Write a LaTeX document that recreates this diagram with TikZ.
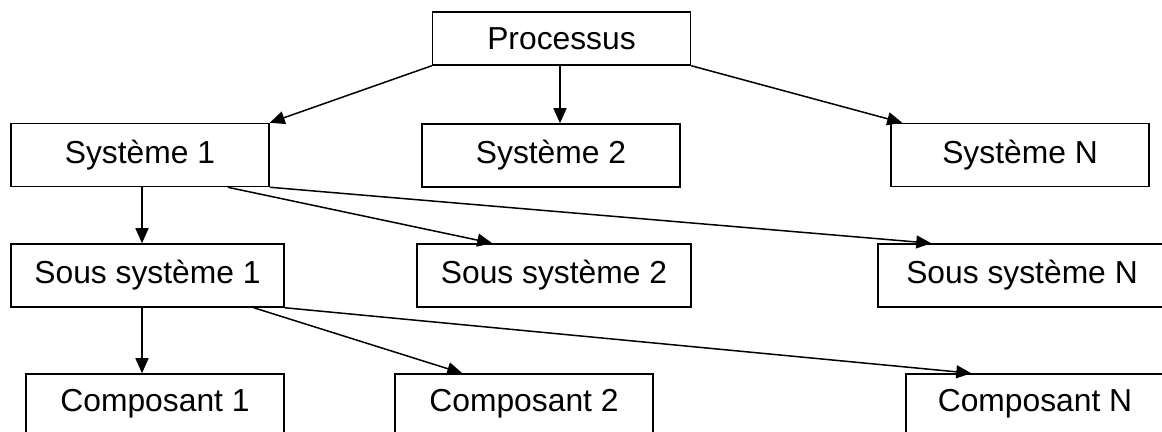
\documentclass[tikz,border=0pt]{standalone}
\usepackage{fontspec}
\setmainfont{Liberation Sans}
\usetikzlibrary{arrows.meta, positioning}

\begin{document}
\begin{tikzpicture}[x=0.5pt,y=-0.5pt,line width=0.75pt,
    >={Triangle[length=7.5pt,width=6.5pt]},
    box/.style={draw,rectangle,inner sep=0pt,minimum width=129pt,minimum height=31.5pt,
      font=\fontsize{15.9}{18}\selectfont}]
    \useasboundingbox (0,0) rectangle (1162,432);
    % niveau 0
    \node[box,minimum height=26.5pt] (P) at (561.5,38.5) {Processus};
    % systemes
    \node[box] (S1) at (140,155) {Système 1};
    \node[box] (S2) at (551,155.5) {Système 2};
    \node[box] (SN) at (1020,155) {Système N};
    % sous systemes
    \node[box,minimum width=136.5pt] (SS1) at (147.5,275.5) {Sous système 1};
    \node[box,minimum width=137pt] (SS2) at (554,275.5) {Sous système 2};
    \node[box,minimum width=144pt] (SSN) at (1022,275.5) {Sous système N};
    % composants
    \node[box,minimum height=30pt] (C1) at (155,404) {Composant 1};
    \node[box,minimum height=30pt] (C2) at (524,404) {Composant 2};
    \node[box,minimum height=30pt] (CN) at (1035,404) {Composant N};
     \path[->]
     (P.south west) edge (S1.north east)
     ([xshift=-0.75pt]P.south) edge ([xshift=-0.75pt]P.south |- S2.north)
     (P.south east) edge ([xshift=6pt]SN.north west)
     ([xshift=1pt]S1.south) edge ([xshift=1pt]S1.south |- SS1.north)
     ([xshift=-21pt]S1.south east) edge ([xshift=38pt]SS2.north west)
     (S1.south east) edge ([xshift=27pt]SSN.north west)
     ([xshift=-2.75pt]SS1.south) edge ([xshift=-2.75pt]SS1.south |- C1.north)
     ([xshift=-15.5pt]SS1.south east) edge ([xshift=34pt]C2.north west)
     (SS1.south east) edge ([xshift=33pt]CN.north west);
 \end{tikzpicture}
\end{document}
